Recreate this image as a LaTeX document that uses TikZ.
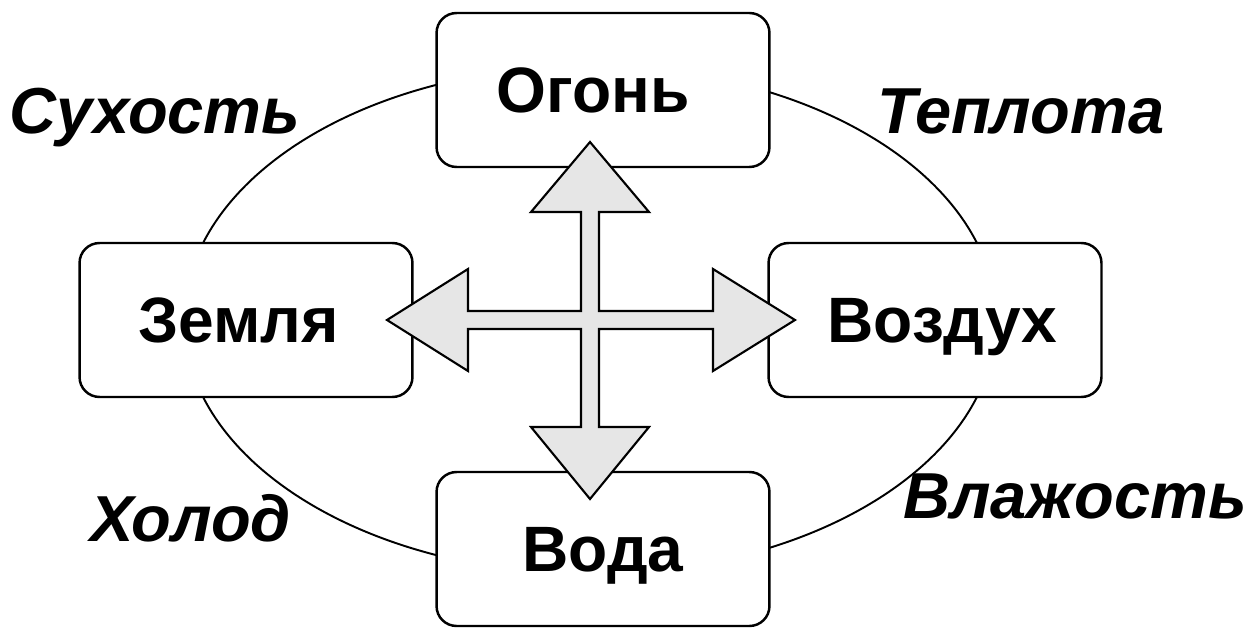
\documentclass[tikz,border=0pt]{standalone}
\usepackage{fontspec}
\setmainfont{Liberation Sans}
\definecolor{arrowgray}{RGB}{230,230,230}
\tikzset{
  element/.style={draw, fill=white, rounded corners=0.4cm, line width=1.4pt,
    minimum width=6.66cm, minimum height=3.08cm, inner sep=0pt,
    text height=0.92cm, text depth=0pt, font=\fontsize{36.5}{40}\selectfont\bfseries},
  quality/.style={anchor=base, inner sep=0pt, font=\fontsize{37}{42}\selectfont\bfseries\itshape}
}
\begin{document}
\begin{tikzpicture}[x=0.02cm, y=-0.02cm]
  \useasboundingbox (0,0) rectangle (1247,628);
  \draw [line width=1.1pt] (590,320) ellipse [x radius=8.12cm, y radius=5.08cm];
  \node [element] (fire) at (603,90) {\kern-0.4cm Огонь};
  \node [element] (earth) at (246,320) {\kern-0.3cm Земля};
  \node [element] (air) at (935,320) {\kern0.3cm Воздух};
  \node [element] (water) at (603,549) {Вода};
  \coordinate (hub) at (590,320);
  \draw [shift={(hub)}, line width=1.2pt, fill=arrowgray]
    (0,-178) -- (59,-108) -- (9,-108) -- (9,-9) -- (123,-9) -- (123,-51)
    -- (205,0) -- (123,51) -- (123,9) -- (9,9) -- (9,107) -- (59,107)
    -- (0,179) -- (-59,107) -- (-9,107) -- (-9,9) -- (-122,9) -- (-122,51)
    -- (-203,0) -- (-122,-51) -- (-122,-9) -- (-9,-9) -- (-9,-108) -- (-59,-108) -- cycle;
  \node [quality] (dry) at (155,134) {Сухость};
  \node [quality] (heat) at (1021,134) {Теплота};
  \node [quality] (cold) at (191,541) {Холод};
  \node [quality] (wet) at (1075,518) {Влажость};
\end{tikzpicture}
\end{document}
